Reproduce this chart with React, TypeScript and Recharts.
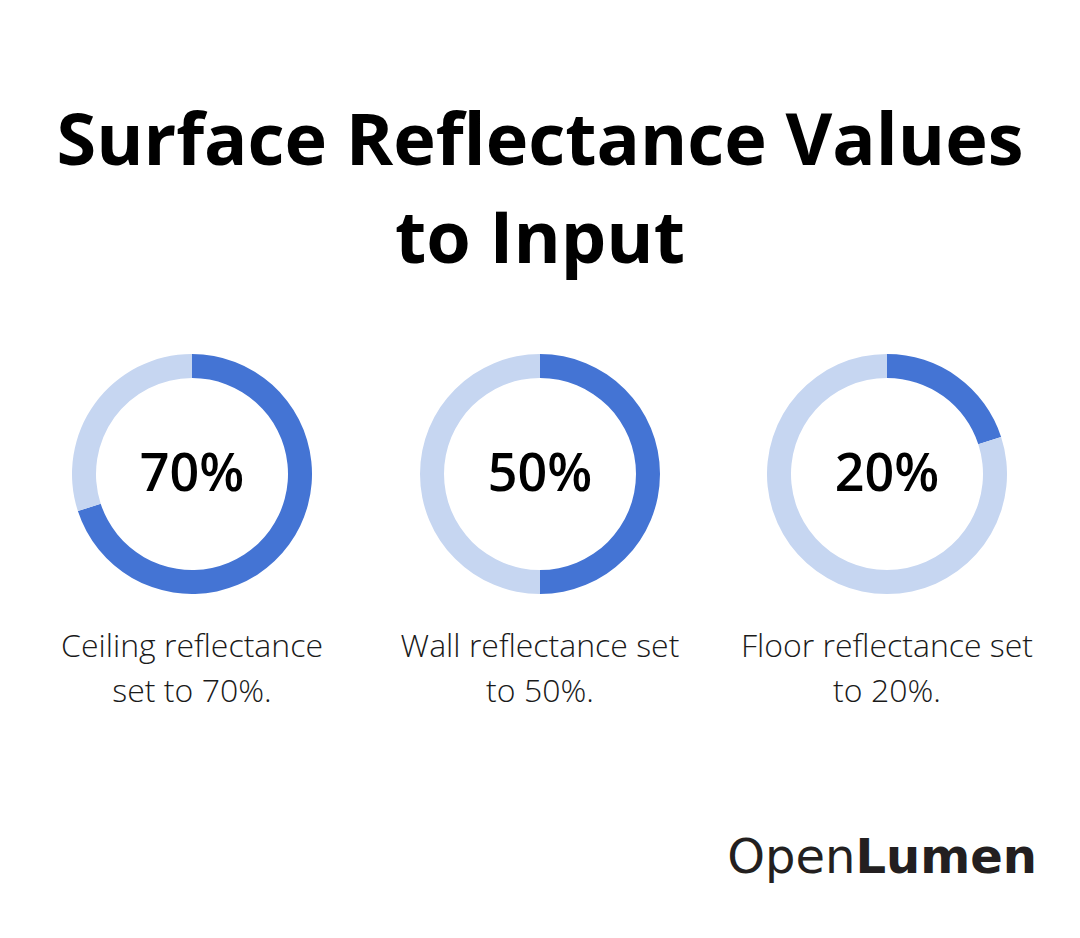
import React from "react"
import { PieChart, Pie, Cell } from "recharts"

const surfaces = ["Ceiling", "Wall", "Floor"]
const reflectance = [70, 50, 20]
const captionLines = [
  ["Ceiling reflectance", "set to 70%."],
  ["Wall reflectance set", "to 50%."],
  ["Floor reflectance set", "to 20%."],
]
const centersX = [192, 540, 887]

const FILLED = "#4474D4"
const REST = "#C6D6F1"
const SIZE = 240

const Donut = ({ value, cx }: { value: number; cx: number }) => {
  const data = [
    { name: "set", value },
    { name: "rest", value: 100 - value },
  ]
  return (
    <div style={{ position: "absolute", left: cx - SIZE / 2, top: 354, width: SIZE, height: SIZE }}>
      <PieChart width={SIZE} height={SIZE} margin={{ top: 0, right: 0, bottom: 0, left: 0 }}>
        <Pie
          data={data}
          dataKey="value"
          cx="50%"
          cy="50%"
          innerRadius={96}
          outerRadius={120}
          startAngle={90}
          endAngle={-270}
          stroke="none"
          isAnimationActive={false}
        >
          <Cell fill={FILLED} />
          <Cell fill={REST} />
        </Pie>
        <text
          x={SIZE / 2}
          y={137}
          textAnchor="middle"
          style={{ fontFamily: "'Open Sans'", fontSize: 52, fontWeight: 600, fill: "#000" }}
        >
          {`${value}%`}
        </text>
      </PieChart>
    </div>
  )
}

export default function App() {
  return (
    <div
      style={{
        position: "absolute",
        left: 0,
        top: 0,
        width: 1080,
        height: 938,
        background: "#fff",
        fontFamily: "'Open Sans', sans-serif",
        overflow: "hidden",
      }}
    >
      <div
        style={{
          position: "absolute",
          top: 88,
          left: 0,
          width: 1080,
          textAlign: "center",
          fontSize: 72,
          fontWeight: 700,
          lineHeight: "98px",
          color: "#000",
        }}
      >
        Surface Reflectance Values
        <br />
        to Input
      </div>

      {surfaces.map((s, i) => (
        <Donut key={s} value={reflectance[i]} cx={centersX[i]} />
      ))}

      {surfaces.map((s, i) => (
        <div
          key={`cap-${s}`}
          style={{
            position: "absolute",
            top: 622,
            left: centersX[i] - 170,
            width: 340,
            textAlign: "center",
            fontSize: 32,
            fontWeight: 300,
            lineHeight: "45px",
            color: "#1a1a1a",
          }}
        >
          {captionLines[i][0]}
          <br />
          {captionLines[i][1]}
        </div>
      ))}

      <div
        style={{
          position: "absolute",
          top: 832,
          right: 43,
          fontFamily: "'DejaVu Sans'",
          fontSize: 48,
          lineHeight: "48px",
          color: "#231f20",
          whiteSpace: "nowrap",
        }}
      >
        <span style={{ fontWeight: 400 }}>Open</span>
        <span style={{ fontWeight: 700 }}>Lumen</span>
      </div>
    </div>
  )
}
